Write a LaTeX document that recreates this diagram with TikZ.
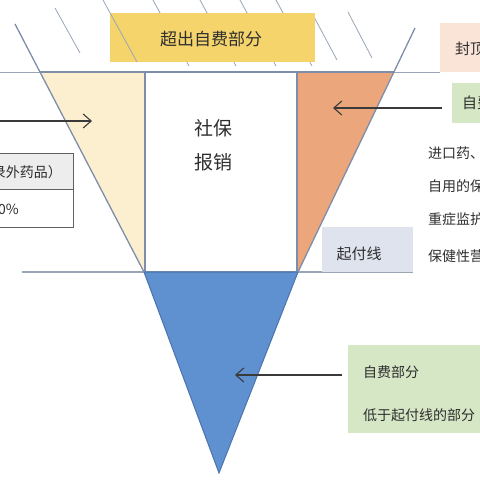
\documentclass[tikz,border=0pt]{standalone}
\usepackage{fontspec}
\setmainfont{Noto Sans CJK SC}
\usetikzlibrary{arrows.meta}
\definecolor{edgegrey}{HTML}{7E8EAA}
\definecolor{hatchgrey}{HTML}{9AA5B6}
\definecolor{textgrey}{HTML}{2E2E2E}
\definecolor{arrowgrey}{HTML}{3A3A3A}
\definecolor{topyellow}{HTML}{F5D46C}
\definecolor{cream}{HTML}{FCEFD0}
\definecolor{orangefill}{HTML}{EBA67C}
\definecolor{bluefill}{HTML}{5F90D0}
\definecolor{blueedge}{HTML}{4A74AE}
\definecolor{pinkbox}{HTML}{FAE4D8}
\definecolor{greenbox}{HTML}{D6E7C6}
\definecolor{lavbox}{HTML}{DFE3EE}
\definecolor{tablegrey}{HTML}{EDEDED}
\tikzset{
  labeltext/.style={text=textgrey, inner sep=0pt, font=\fontsize{14}{16}\selectfont},
  pointer/.style={draw=arrowgrey, line width=1.1pt, -{Straight Barb[length=8pt,width=14pt]}},
  hatch/.style={draw=hatchgrey, line width=0.8pt},
}
\begin{document}
\begin{tikzpicture}[x=1pt,y=-1pt]
  \useasboundingbox (0,0) rectangle (480,480);
  \clip (0,0) rectangle (480,480);

  % hatch lines above the funnel
  \draw[hatch] (55,8) -- (80,53);
  \foreach \xs in {153,200,240,276}
    \draw[hatch] (\xs,0) -- ({\xs+36},66);
  \draw[hatch] (313,15) -- (337,60);
  \draw[hatch] (348,12) -- (372,58);

  % level lines
  \draw[hatchgrey, line width=1pt] (0,72) -- (440,72);
  \draw[hatchgrey, line width=1.2pt] (22,272) -- (413,272);

  % funnel parts
  \fill[cream] (40,72) -- (145,72) -- (145,272) -- (144,272) -- cycle;
  \fill[orangefill] (297,72) -- (394,72) -- (298,272) -- (297,272) -- cycle;
  \draw[fill=white, draw=edgegrey, line width=1.5pt] (145,72) rectangle (297,272);
  \draw[fill=bluefill, draw=blueedge, line width=1pt] (144,272) -- (298,272) -- (219,473) -- cycle;
  \draw[edgegrey, line width=1.3pt] (15,24) -- (144,272);
  \draw[edgegrey, line width=1.3pt] (415,28) -- (298,272);
  \draw[edgegrey, line width=1.5pt] (40,72) -- (394,72);

  % top box
  \fill[topyellow] (110,13) rectangle (315,62);
  \draw[hatch] (103,0) -- (137,62);
  \node[labeltext, font=\fontsize{17}{19}\selectfont] (overCap) at (211,39) {超出自费部分};

  \node[labeltext, font=\fontsize{19}{34}\selectfont, align=center] (socialPay) at (213,145) {社保\\报销};

  % left side
  \draw[draw=arrowgrey!80, fill=tablegrey, line width=0.9pt] (-5,153) rectangle (73,189);
  \draw[draw=arrowgrey!80, fill=white, line width=0.9pt] (-5,189) rectangle (73,227);
  \node[labeltext, anchor=east] (outList) at (62,172) {（目录外药品）};
  \node[labeltext, anchor=east] (outRate) at (19,209) {自付100\%};
  \coordinate (leftTail) at (0,121);
  \coordinate (leftTip) at (92,121);
  \draw[pointer] (leftTail) -- (leftTip);

  % right side
  \fill[pinkbox] (440,23) rectangle (485,72);
  \node[labeltext, anchor=west, font=\fontsize{15}{17}\selectfont] (capLine) at (455,49) {封顶线};
  \fill[greenbox] (452,83) rectangle (485,123);
  \node[labeltext, anchor=west, font=\fontsize{15}{17}\selectfont] (selfTop) at (462,103) {自费};
  \coordinate (rightTail) at (442,108);
  \coordinate (rightTip) at (333,108);
  \draw[pointer] (rightTail) -- (rightTip);

  \node[labeltext, anchor=west] (itemA) at (428,153) {进口药、进口器材};
  \node[labeltext, anchor=west] (itemB) at (428,186) {自用的保健品};
  \node[labeltext, anchor=west] (itemC) at (428,219) {重症监护};
  \node[labeltext, anchor=west] (itemD) at (428,256) {保健性营养品};

  \fill[lavbox] (322,227) rectangle (413,272);
  \node[labeltext, font=\fontsize{15}{17}\selectfont] (startLine) at (359,254) {起付线};

  % bottom right
  \fill[greenbox] (348,345) rectangle (485,433);
  \node[labeltext, anchor=west] (selfPart) at (363,372) {自费部分};
  \node[labeltext, anchor=west] (belowLine) at (363,415) {低于起付线的部分};
  \coordinate (lowTail) at (342,375);
  \coordinate (lowTip) at (235,375);
  \draw[pointer] (lowTail) -- (lowTip);
\end{tikzpicture}
\end{document}
